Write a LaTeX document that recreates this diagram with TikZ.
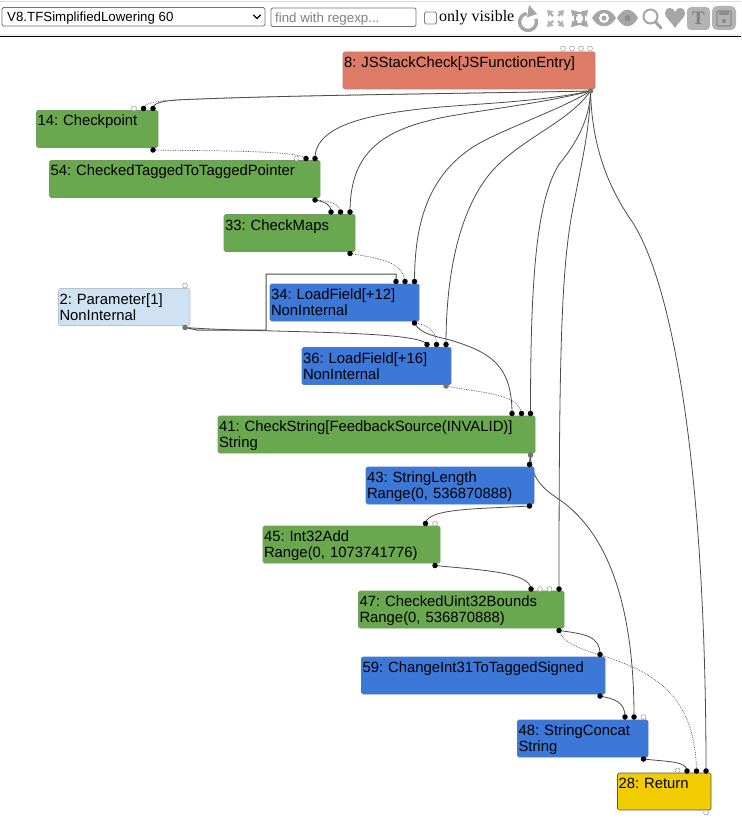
\documentclass[tikz,border=0pt]{standalone}
\usepackage{fontspec}
\setmainfont{Liberation Sans}
\newfontfamily\barserif{Liberation Serif}
\usetikzlibrary{backgrounds,arrows.meta}
\definecolor{opgreen}{HTML}{6AA84F}
\definecolor{opblue}{HTML}{3C78D8}
\definecolor{oplight}{HTML}{CFE2F3}
\definecolor{opred}{HTML}{DD7B66}
\definecolor{opyellow}{HTML}{F1CC00}
\definecolor{icongray}{HTML}{A6A6A6}
\tikzset{
  opbox/.style={draw=#1!70!gray,fill=#1,rounded corners=1.5pt,line width=.7pt,inner xsep=1pt,inner ysep=0pt,outer sep=0pt,
    anchor=north west,align=left,text height=15.5pt,text depth=21.5pt,font=\fontsize{14.85}{16}\selectfont\frenchspacing},
  portin/.style={circle,fill=black,inner sep=0pt,minimum size=5.5pt},
  portgray/.style={circle,fill=black!55,inner sep=0pt,minimum size=5.5pt},
  portfree/.style={circle,draw=black!40,fill=white,line width=.5pt,inner sep=0pt,minimum size=5pt},
  valedge/.style={draw=black!70,line width=.8pt},
  effedge/.style={draw=black!70,line width=.7pt,densely dotted},
  barbox/.style={draw=black!55,rounded corners=1.5pt,line width=.8pt,minimum height=18.5pt,inner sep=0pt,anchor=north west,outer sep=0pt},
  bartext/.style={inner sep=0pt,anchor=base west,font=\fontsize{13.3}{16}\selectfont},
}
\begin{document}
\begin{tikzpicture}[x=1pt,y=-1pt,line join=round,line cap=round]
\useasboundingbox (0,0) rectangle (741,818);
% toolbar
\fill[black!13] (0,1) rectangle (741,2.5);
\fill[yellow!20!black!8] (0,34.5) rectangle (741,36.5);
\fill[black] (0,36.5) rectangle (741,37.5);
\node[barbox,minimum width=263pt] (selbox) at (2,7.5) {};
\node[bartext] (seltext) at (7,22) {V8.TFSimplifiedLowering 60};
\draw[line width=1.4pt] (253.5,15) -- (257,18.5) -- (260.5,15);
\node[barbox,minimum width=145pt] (findbox) at (271,8) {};
\node[bartext,text=black!50] (findtext) at (275,22.5) {find with regexp...};
\node[barbox,draw=black!50,minimum width=12pt,minimum height=12pt] (visbox) at (424.5,12) {};
\node[inner sep=0pt,anchor=base west,font=\barserif\fontsize{16}{18}\selectfont] (vistext) at (439,22) {only visible};
% icons
\draw[icongray,line width=3.4pt,line cap=butt] (536,19) arc (-20:260:8.5);
\fill[icongray] (529,5) -- (537,14) -- (527,17.5) -- cycle;
\foreach \ax/\ay/\bx/\by in {547/10/553/16,564/10/558/16,547/27/553/21,564/27/558/21}{
  \draw[icongray!85,line width=2.4pt,line cap=butt,-{Triangle[length=5.5pt,width=7pt]}] (\bx,\by) -- (\ax,\ay);}
\foreach \ax/\ay/\bx/\by in {571/10/577/16,588/10/582/16,571/27/577/21,588/27/582/21}{
  \draw[icongray,line width=2.4pt,line cap=butt,-{Triangle[length=5.5pt,width=7pt]}] (\bx,\by) -- (\ax,\ay);}
\draw[icongray,line width=1.6pt] (575,13) rectangle (584,24);
\fill[icongray] (592,18) .. controls (598,7) and (610,7) .. (616,18) .. controls (610,29) and (598,29) .. cycle;
\fill[white] (604,18) circle (5);
\fill[icongray] (604,18) circle (2.5);
\fill[icongray] (617,18) .. controls (623,7) and (632,7) .. (638,18) .. controls (632,29) and (623,29) .. cycle;
\fill[black!45] (627.5,18) circle (3);
\draw[icongray,line width=2pt] (650.5,16.5) circle (7);
\draw[icongray,line width=3pt] (655.5,22) -- (661,28);
\fill[icongray] (675,28) .. controls (670,20) and (665,18) .. (665,13) .. controls (665,7) and (673,6) .. (675,12) .. controls (677,6) and (685,7) .. (685,13) .. controls (685,18) and (680,20) .. (675,28) -- cycle;
\fill[icongray!85,rounded corners=4pt] (687,7) rectangle (710,30);
\node[inner sep=0pt,text=black!50,font=\barserif\bfseries\fontsize{19}{20}\selectfont] (icont) at (698.5,18.5) {T};
\fill[icongray!85,rounded corners=5pt] (712,6) rectangle (736,30);
\draw[black!45,line width=1.4pt,rounded corners=1pt] (717,11) rectangle (731,26);
\fill[black!45] (719,11) rectangle (729,15);
\fill[black!45] (724,21) circle (2.2);
% ops
\foreach \n/\x/\y/\w/\col/\txt in {8/343/52/252/opred/{8: JSStackCheck[JSFunctionEntry]},
  14/36.5/110.5/121.5/opgreen/{14: Checkpoint},
  54/49.5/160.5/270.5/opgreen/{54: CheckedTaggedToTaggedPointer},
  33/224/214.5/131/opgreen/{33: CheckMaps},
  2/58.5/288.5/131.5/oplight/{2: Parameter[1]\\NonInternal},
  34/270/284/149/opblue/{34: LoadField[+12]\\NonInternal},
  36/302/347.5/149/opblue/{36: LoadField[+16]\\NonInternal},
  41/218/416/317/opgreen/{41: CheckString[FeedbackSource(INVALID)]\\String},
  43/366/467/168/opblue/{43: StringLength\\Range(0, 536870888)},
  45/263/526/177/opgreen/{45: Int32Add\\Range(0, 1073741776)},
  47/358.5/591/205.5/opgreen/{47: CheckedUint32Bounds\\Range(0, 536870888)},
  59/361.5/657/243.5/opblue/{59: ChangeInt31ToTaggedSigned},
  48/517.5/720/130.5/opblue/{48: StringConcat\\String}}{
  \pgfmathsetmacro\tw{\w-2}
  \node[opbox=\col,text width=\tw pt] (n\n) at (\x,\y) {\txt};}
\node[opbox=opyellow,draw=black!65,text width=91.5pt] (n28) at (617.5,773) {28: Return};
% ports
\foreach \p/\x/\y in {f8a/563/48.5,f8b/572/48.5,f8c/581/48.5,f8d/590/48.5,f14/134/108.5,f54/296.5/158.5,f2/185/285.5,
  f45/435/523.5,f47a/540/589,f47b/549.5/589,f48/643.5/717,f28a/677.5/770.5,f28b/706/812.5}{\node[portfree] (\p) at (\x,\y) {};}
\foreach \p/\x/\y in {i14a/143.5/108.5,i14b/153/108.5,i54a/306/158.5,i54b/315/158.5,i33a/331/212,i33b/340.5/212,i33c/350/212,
  i34a/396/281.5,i34b/405/281.5,i34c/414.5/281.5,i36a/427/344.5,i36b/436.5/344.5,i36c/446/344.5,i41a/512/413.5,i41b/521.5/413.5,i41c/530.5/413.5,
  i43/529.5/464.5,i45/425.5/523.5,i47a/531/589,i47b/559/589,i59/600/654.5,i48a/625/717,i48b/634/717,i28a/687/771,i28b/696.5/771,i28c/706/771,
  o14/153/150,o54/315/200,o33/350/253.5,o34/414.5/323,o43/529.5/506,o45/435/565.5,o47/559/630.5,o59/600/696,o48/643.5/759}{\node[portin] (\p) at (\x,\y) {};}
\foreach \p/\x/\y in {o8/590.5/91,o2/185/327.5,o36/446/386,o41/530.5/455}{\node[portgray] (\p) at (\x,\y) {};}
% edges
\begin{scope}[on background layer]
\fill[white] (0,0) rectangle (741,818);
\draw[effedge] (o8.center) .. controls (500,93) and (300,95) .. (200,99) .. controls (165,100) and (145,101) .. (i14a.center);
\draw[valedge] (o8.center) .. controls (500,93) and (300,95) .. (200,99) .. controls (170,100) and (153,101) .. (i14b.center);
\draw[valedge] (o8.center) .. controls (540,102) and (470,104) .. (430,108) .. controls (370,114) and (315,125) .. (i54b.center);
\draw[valedge] (o8.center) .. controls (540,104) and (480,110) .. (440,118) .. controls (385,130) and (350,150) .. (i33c.center);
\draw[valedge] (o8.center) .. controls (560,110) and (500,130) .. (473,147) .. controls (430,175) and (414.5,220) .. (i34c.center);
\draw[valedge] (o8.center) .. controls (570,120) and (530,135) .. (500,163) .. controls (465,195) and (446,260) .. (i36c.center);
\draw[valedge] (o8.center) .. controls (590,120) and (575,145) .. (560,163) .. controls (535,200) and (530.5,290) .. (i41c.center);
\draw[valedge] (o8.center) .. controls (590,130) and (580,170) .. (572,213) .. controls (562,270) and (559,340) .. (i47b.center);
\draw[valedge] (o8.center) .. controls (592,150) and (610,190) .. (633,223) .. controls (675,290) and (706,480) .. (i28c.center);
\draw[effedge] (o14.center) .. controls (200,151) and (300,150) .. (i54a.center);
\draw[valedge] (o54.center) .. controls (325,202) and (331,204) .. (i33a.center);
\draw[effedge] (o54.center) .. controls (330,201) and (339,203) .. (i33b.center);
\draw[effedge] (o33.center) .. controls (375,258) and (403,260) .. (i34b.center);
\draw[valedge,line width=1pt] (o2.center) -- (197,330) -- (266,330) -- (266,274) -- (396,274) -- (i34a.center);
\draw[valedge] (o2.center) .. controls (260,333) and (420,330) .. (i36a.center);
\draw[effedge] (o34.center) .. controls (430,325) and (436.5,332) .. (i36b.center);
\draw[valedge] (o34.center) .. controls (420,335) and (440,337) .. (450,340) .. controls (490,352) and (512,365) .. (i41a.center);
\draw[effedge] (o36.center) .. controls (480,393) and (519,393) .. (i41b.center);
\draw[valedge,line width=1.3pt] (o41.center) -- (i43.center);
\draw[valedge] (o41.center) .. controls (531,480) and (545,490) .. (560,500) .. controls (610,535) and (634,610) .. (i48b.center);
\draw[valedge] (o43.center) .. controls (480,509) and (427,508) .. (i45.center);
\draw[valedge] (o45.center) .. controls (480,570) and (530,572) .. (i47a.center);
\draw[valedge] (o47.center) .. controls (585,634) and (600,636) .. (i59.center);
\draw[effedge] (o47.center) .. controls (562,642) and (580,649) .. (600,655) .. controls (660,673) and (695,700) .. (i28b.center);
\draw[valedge] (o59.center) .. controls (615,699) and (625,702) .. (i48a.center);
\draw[valedge] (o48.center) .. controls (670,762) and (686,761) .. (i28a.center);
\end{scope}
\end{tikzpicture}
\end{document}
